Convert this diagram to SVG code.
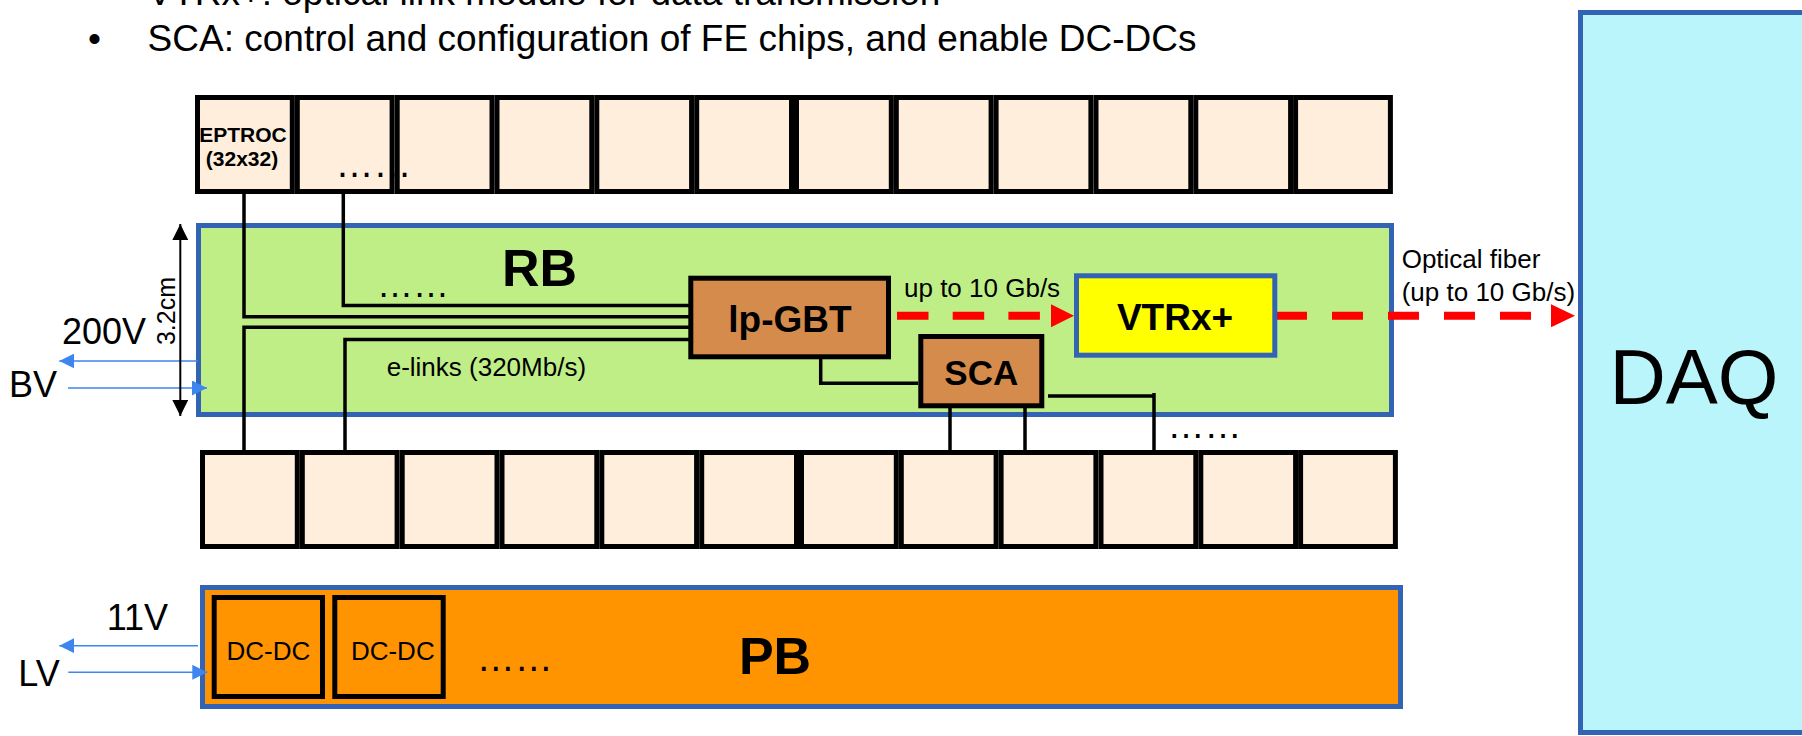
<svg xmlns="http://www.w3.org/2000/svg" width="1802" height="736" viewBox="0 0 1802 736">
<style>
text{font-family:"Liberation Sans",Arial,sans-serif;fill:#000}
.b{font-weight:bold}
.chip{fill:#FFEEDB;stroke:#000;stroke-width:5}
.board{stroke:#3263B4;stroke-width:5}
.blk{fill:#D48B4B;stroke:#000;stroke-width:5}
.dc{fill:#FF9300;stroke:#000;stroke-width:5}
.wire{fill:none;stroke:#000;stroke-width:3.5}
.bv{stroke:#3D85EF;stroke-width:1.6;fill:none}
.red{stroke:#FF0000;stroke-width:8;fill:none}
</style>
<defs>
<marker id="ab" viewBox="0 0 15 15" refX="15" refY="7.5" markerWidth="15" markerHeight="15" markerUnits="userSpaceOnUse" orient="auto"><path d="M0,0 L15,7.5 L0,15 z" fill="#3D85EF"/></marker>
<marker id="ak" viewBox="0 0 16 16" refX="16" refY="8" markerWidth="16" markerHeight="16" markerUnits="userSpaceOnUse" orient="auto-start-reverse"><path d="M0,0 L16,8 L0,16 z" fill="#000"/></marker>
</defs>

<!-- heading text -->
<text x="147.6" y="5" font-size="37">VTRx+: optical link module for data transmission</text>
<text x="88" y="51" font-size="37">•</text>
<text x="147.6" y="51" font-size="37">SCA: control and configuration of FE chips, and enable DC-DCs</text>

<!-- DAQ -->
<g id="daq">
<rect x="1580.5" y="12.5" width="300" height="720" fill="#BAF5FC" class="board"/>
<text x="1694" y="404" font-size="78" text-anchor="middle">DAQ</text>
</g>

<!-- RB -->
<g id="rb">
<rect x="198.5" y="225.5" width="1193" height="189" fill="#BFEE87" class="board"/>
<text x="502" y="286" font-size="52" class="b">RB</text>
<text x="377" y="297" font-size="36">……</text>
<text x="386.7" y="376" font-size="26">e-links (320Mb/s)</text>
</g>

<!-- PB -->
<g id="pb">
<rect x="202.5" y="587.5" width="1198" height="119" fill="#FF9300" class="board"/>
<text x="775" y="674" font-size="52" class="b" text-anchor="middle">PB</text>
<text x="476.7" y="670.7" font-size="38">……</text>
</g>
<g id="dcdc1">
<rect x="214.2" y="597.5" width="108.3" height="99" class="dc"/>
<text x="268.4" y="660" font-size="26" text-anchor="middle">DC-DC</text>
</g>
<g id="dcdc2">
<rect x="334.8" y="597.5" width="108.4" height="99" class="dc"/>
<text x="392.8" y="660" font-size="26" text-anchor="middle">DC-DC</text>
</g>

<!-- top chips -->
<g id="top-chips">
<g id="eptroc"><rect class="chip" x="197.5" y="97.5" width="94.8" height="94"/>
<text x="243" y="141.7" font-size="21" class="b" text-anchor="middle">EPTROC</text>
<text x="242" y="166" font-size="21" class="b" text-anchor="middle">(32x32)</text></g>
<rect class="chip" x="297.3" y="97.5" width="94.8" height="94"/>
<rect class="chip" x="397.2" y="97.5" width="94.8" height="94"/>
<rect class="chip" x="497.0" y="97.5" width="94.8" height="94"/>
<rect class="chip" x="596.8" y="97.5" width="94.8" height="94"/>
<rect class="chip" x="696.7" y="97.5" width="94.8" height="94"/>
<rect class="chip" x="796.5" y="97.5" width="94.8" height="94"/>
<rect class="chip" x="896.3" y="97.5" width="94.8" height="94"/>
<rect class="chip" x="996.1" y="97.5" width="94.8" height="94"/>
<rect class="chip" x="1096.0" y="97.5" width="94.8" height="94"/>
<rect class="chip" x="1195.8" y="97.5" width="94.8" height="94"/>
<rect class="chip" x="1295.6" y="97.5" width="94.8" height="94"/>
<text x="335.4" y="176.7" font-size="38">……</text>
</g>

<!-- bottom chips -->
<g id="bottom-chips">
<rect class="chip" x="202.5" y="452.5" width="94.8" height="94"/>
<rect class="chip" x="302.3" y="452.5" width="94.8" height="94"/>
<rect class="chip" x="402.2" y="452.5" width="94.8" height="94"/>
<rect class="chip" x="502.0" y="452.5" width="94.8" height="94"/>
<rect class="chip" x="601.8" y="452.5" width="94.8" height="94"/>
<rect class="chip" x="701.7" y="452.5" width="94.8" height="94"/>
<rect class="chip" x="801.5" y="452.5" width="94.8" height="94"/>
<rect class="chip" x="901.3" y="452.5" width="94.8" height="94"/>
<rect class="chip" x="1001.1" y="452.5" width="94.8" height="94"/>
<rect class="chip" x="1101.0" y="452.5" width="94.8" height="94"/>
<rect class="chip" x="1200.8" y="452.5" width="94.8" height="94"/>
<rect class="chip" x="1300.6" y="452.5" width="94.8" height="94"/>
<text x="1167.5" y="438" font-size="37">……</text>
</g>

<!-- connectors -->
<g id="connectors">
<path class="wire" d="M244,194 V316.7 H689"/>
<path class="wire" d="M343.3,194 V305.5 H689"/>
<path class="wire" d="M244,450 V327.3 H689"/>
<path class="wire" d="M345,450 V339.5 H689"/>
<path class="wire" d="M820.7,359 V383.3 H918"/>
<path class="wire" d="M950,408 V450"/>
<path class="wire" d="M1025,408 V450"/>
<path class="wire" d="M1048,396 H1154 M1154,393 V450"/>
<path class="red" d="M897,315.8 H1040" stroke-dasharray="31.5 24.2"/>
<path d="M1051,304.3 L1074,315.8 L1051,327.3 z" fill="#FF0000"/>
<path class="red" d="M1276,315.8 H1531" stroke-dasharray="31 25"/>
<path d="M1551,304.3 L1575,315.8 L1551,327.3 z" fill="#FF0000"/>
<path class="bv" d="M198,361 H59.3" marker-end="url(#ab)"/>
<path class="bv" d="M68,388 H207" marker-end="url(#ab)"/>
<path class="bv" d="M198,645.7 H59.3" marker-end="url(#ab)"/>
<path class="bv" d="M68.3,672.3 H207.3" marker-end="url(#ab)"/>
<path d="M180.3,224 V416" stroke="#000" stroke-width="2" marker-start="url(#ak)" marker-end="url(#ak)"/>
</g>

<g id="lpgbt">
<rect x="690.8" y="278.2" width="197.7" height="78.6" class="blk"/>
<text x="790" y="332" font-size="37" class="b" text-anchor="middle">lp-GBT</text>
</g>
<g id="sca">
<rect x="920.8" y="336.5" width="121" height="69.3" class="blk"/>
<text x="981.3" y="385" font-size="35" class="b" text-anchor="middle">SCA</text>
</g>
<g id="vtrx">
<rect x="1076.5" y="275.8" width="198.3" height="79.4" fill="#FFFF00" class="board"/>
<text x="1175" y="330" font-size="37" class="b" text-anchor="middle">VTRx+</text>
</g>

<!-- labels -->
<text x="904" y="296.7" font-size="26">up to 10 Gb/s</text>
<text x="1401.7" y="268.3" font-size="26">Optical fiber</text>
<text x="1401.7" y="300.7" font-size="26">(up to 10 Gb/s)</text>
<text x="62" y="344" font-size="36">200V</text>
<text x="9" y="397" font-size="36">BV</text>
<text x="106.7" y="630" font-size="36">11V</text>
<text x="18.3" y="686" font-size="36">LV</text>
<text transform="translate(175,311) rotate(-90)" font-size="25" text-anchor="middle">3.2cm</text>
</svg>
